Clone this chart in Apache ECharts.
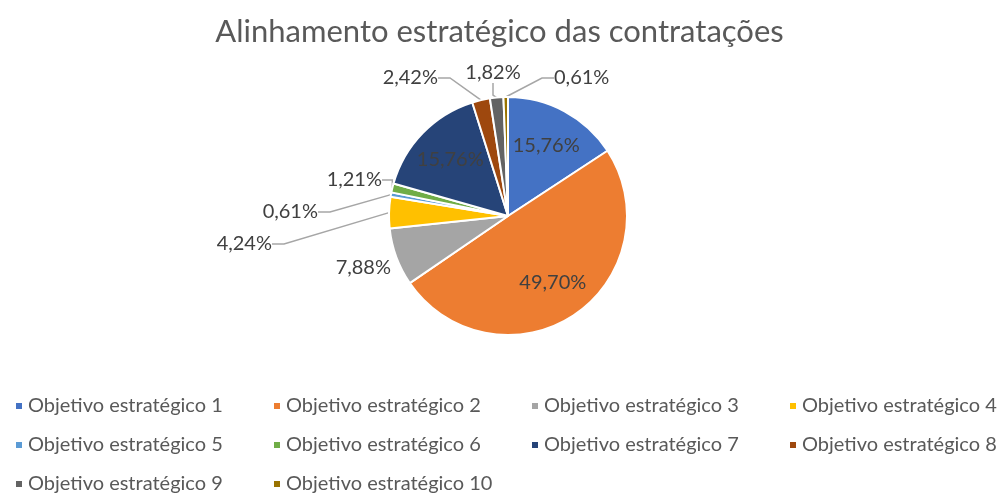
<!DOCTYPE html>
<html>
<head>
<meta charset="utf-8">
<script src="https://cdn.jsdelivr.net/npm/echarts@6/dist/echarts.min.js"></script>
<style>
  html, body { margin: 0; padding: 0; background: #fff; }
  #chart { width: 999px; height: 494px; }
</style>
</head>
<body>
<div id="chart"></div>
<script>
const categories = [
  'Objetivo estratégico 1', 'Objetivo estratégico 2', 'Objetivo estratégico 3',
  'Objetivo estratégico 4', 'Objetivo estratégico 5', 'Objetivo estratégico 6',
  'Objetivo estratégico 7', 'Objetivo estratégico 8', 'Objetivo estratégico 9',
  'Objetivo estratégico 10'
]
const percents = [15.76, 49.70, 7.88, 4.24, 0.61, 1.21, 15.76, 2.42, 1.82, 0.61]
const colors = ['#4472C4', '#ED7D31', '#A5A5A5', '#FFC000', '#5B9BD5',
  '#70AD47', '#264478', '#9E480E', '#636363', '#997300']

// slices whose label sits inside the pie
const insideIdx = [0, 1, 6]
const fontFamily = 'Lato, "Noto Sans", sans-serif'

// where the outside labels go (Excel-like manual placement)
const outerLabelPlace = {
  2: { x: 391, y: 268, align: 'right' },
  3: { x: 272, y: 244, align: 'right' },
  4: { x: 318, y: 212, align: 'right' },
  5: { x: 382, y: 180, align: 'right' },
  7: { x: 438, y: 78, align: 'right' },
  8: { x: 493, y: 73, align: 'center' },
  9: { x: 554, y: 78, align: 'left' }
}

function fmt(v) {
  return v.toFixed(2).replace('.', ',') + '%'
}

const chart = echarts.init(document.getElementById('chart'))

const mainData = categories.map(function(name, i) {
  const inside = insideIdx.indexOf(i) >= 0
  return {
    name: name,
    value: percents[i],
    itemStyle: { color: colors[i] },
    label: { show: !inside },
    labelLine: { show: !inside && i !== 2 }
  }
})

const overlayData = categories.map(function(name, i) {
  return {
    name: name,
    value: percents[i],
    label: { show: insideIdx.indexOf(i) >= 0 }
  }
})

chart.setOption({
  backgroundColor: '#FFFFFF',
  animation: false,
  title: {
    text: 'Alinhamento estratégico das contratações',
    left: 'center',
    top: 11,
    textStyle: {
      color: '#595959',
      fontSize: 31,
      fontWeight: 'normal',
      fontFamily: fontFamily
    }
  },
  legend: {
    left: 9,
    top: 391,
    width: 1040,
    itemWidth: 8,
    itemHeight: 8,
    itemGap: 19,
    icon: 'rect',
    data: categories,
    textStyle: {
      color: '#595959',
      fontSize: 20,
      fontFamily: fontFamily,
      width: 225,
      lineHeight: 20
    }
  },
  series: [{
    name: 'Alinhamento',
    type: 'pie',
    center: [508, 216],
    radius: [0, 119],
    startAngle: 90,
    clockwise: true,
    avoidLabelOverlap: false,
    itemStyle: { borderColor: '#FFFFFF', borderWidth: 2 },
    label: {
      position: 'outside',
      color: '#404040',
      fontSize: 20,
      fontFamily: fontFamily,
      formatter(p) {
        return fmt(p.value)
      }
    },
    labelLine: {
      length: 12,
      length2: 12,
      lineStyle: { color: '#A6A6A6', width: 1.5 }
    },
    labelLayout(params) {
      const place = outerLabelPlace[params.dataIndex]
      if (!place) {
        return {}
      }
      return {
        x: place.x,
        y: place.y,
        align: place.align,
        verticalAlign: 'middle'
      }
    },
    data: mainData
  }, {
    name: 'Rótulos',
    type: 'pie',
    silent: true,
    center: [508, 216],
    radius: [36, 119],
    startAngle: 90,
    clockwise: true,
    itemStyle: { color: 'rgba(0,0,0,0)' },
    label: {
      position: 'inside',
      color: '#404040',
      fontSize: 20,
      fontFamily: fontFamily,
      formatter(p) {
        return fmt(p.value)
      }
    },
    labelLine: { show: false },
    data: overlayData
  }]
})
</script>
</body>
</html>
